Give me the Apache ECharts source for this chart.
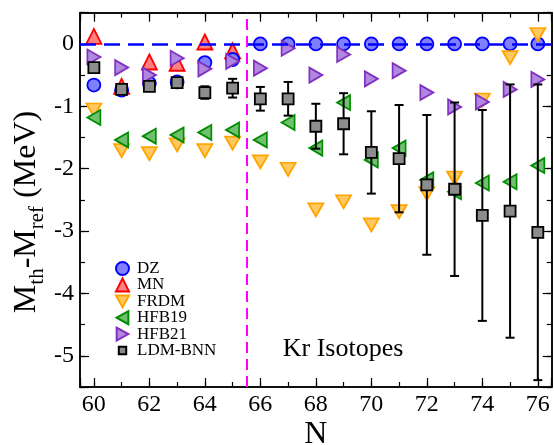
<!DOCTYPE html>
<html>
<head>
<meta charset="utf-8">
<script src="https://cdn.jsdelivr.net/npm/echarts@6/dist/echarts.min.js"></script>
<style>
  html, body { margin: 0; padding: 0; background: #fff; }
  #chart { width: 554px; height: 445px; }
</style>
</head>
<body>
<div id="chart"></div>
<script>
// neutron numbers
const nAll = [60, 61, 62, 63, 64, 65, 66, 67, 68, 69, 70, 71, 72, 73, 74, 75, 76];
const nMN = [60, 61, 62, 63, 64, 65];

// M_th - M_ref (MeV)
const dz = [-0.66, -0.74, -0.63, -0.61, -0.30, -0.25, 0, 0, 0, 0, 0, 0, 0, 0, 0, 0, 0];
const mn = [0.12, -0.68, -0.29, -0.31, 0.03, -0.11];
const frdm = [-1.06, -1.71, -1.76, -1.62, -1.71, -1.59, -1.89, -2.01, -2.66, -2.53, -2.90, -2.69, -2.40, -2.15, -0.90, -0.22, 0.15];
const hfb19 = [-1.18, -1.54, -1.48, -1.46, -1.42, -1.38, -1.54, -1.26, -1.67, -0.94, -1.86, -1.67, -2.18, -2.37, -2.23, -2.21, -1.95];
const hfb21 = [-0.21, -0.38, -0.50, -0.23, -0.40, -0.28, -0.39, -0.07, -0.50, -0.17, -0.56, -0.43, -0.78, -1.01, -0.93, -0.73, -0.57];
const ldm = [-0.38, -0.73, -0.68, -0.62, -0.78, -0.71, -0.88, -0.88, -1.32, -1.28, -1.74, -1.84, -2.26, -2.33, -2.75, -2.68, -3.02];
const ldmErr = [0.04, 0.05, 0.05, 0.06, 0.10, 0.15, 0.19, 0.27, 0.36, 0.49, 0.66, 0.86, 1.12, 1.39, 1.69, 2.03, 2.37];

const font = "'Liberation Serif', 'Times New Roman', serif";

const chart = echarts.init(document.getElementById('chart'));

const pairs = (xs, ys) => xs.map((x, i) => [x, ys[i]]);

const tri = {
  down: 'path://M0,0L10,0L5,9Z',
  left: 'path://M0,5L9,0L9,10Z',
  right: 'path://M0,0L9,5L0,10Z'
};

function xAxisCfg(pos, major, showLabel) {
  return {
    type: 'value',
    position: pos,
    min: 59.5,
    max: 76.5,
    splitNumber: major ? 8 : 17,
    minInterval: major ? 2 : 1,
    maxInterval: major ? 2 : 1,
    axisLine: { show: true, onZero: false, lineStyle: { color: '#000', width: 1.5 } },
    axisTick: { show: true, inside: true, length: major ? 9 : 5, lineStyle: { color: '#000', width: 1.2 } },
    splitLine: { show: false },
    axisLabel: {
      show: showLabel,
      margin: 6,
      fontSize: 24,
      fontFamily: font,
      color: '#000',
      formatter: v => (Number.isInteger(v) && v % 2 === 0 ? String(v) : '')
    },
    name: showLabel ? 'N' : '',
    nameLocation: 'middle',
    nameGap: 32,
    nameMoveOverlap: false,
    nameTextStyle: { fontSize: 32, fontFamily: font, color: '#000' }
  };
}

function yAxisCfg(pos, major, showLabel) {
  const cfg = {
    type: 'value',
    position: pos,
    min: -5.5,
    max: 0.5,
    axisLine: { show: true, onZero: false, lineStyle: { color: '#000', width: 1.5 } },
    axisTick: { show: true, inside: true, length: major ? 9 : 5, lineStyle: { color: '#000', width: 1.2 } },
    splitLine: { show: false },
    axisLabel: {
      show: showLabel,
      margin: 6,
      fontSize: 24,
      fontFamily: font,
      color: '#000',
      formatter: v => (Number.isInteger(v) ? String(v) : '')
    }
  };
  if (major) {
    cfg.splitNumber = 6;
    cfg.minInterval = 1;
    cfg.maxInterval = 1;
  } else {
    cfg.interval = 0.5;
  }
  return cfg;
}

const option = {
  animation: false,
  backgroundColor: '#fff',
  grid: { left: 80, right: 2.3, top: 12.7, bottom: 58, outerBoundsMode: 'none', containLabel: false },
  xAxis: [
    xAxisCfg('bottom', true, true),
    xAxisCfg('bottom', false, false),
    xAxisCfg('top', true, false),
    xAxisCfg('top', false, false)
  ],
  yAxis: [
    yAxisCfg('left', true, true),
    yAxisCfg('left', false, false),
    yAxisCfg('right', true, false),
    yAxisCfg('right', false, false)
  ],
  legend: {
    orient: 'vertical',
    left: 110,
    top: 255,
    itemWidth: 13,
    itemHeight: 13,
    itemGap: -0.6,
    textStyle: { fontSize: 17, fontFamily: font, color: '#000', lineHeight: 16, padding: [0, 0, 0, 3] },
    data: [
      { name: 'DZ' },
      { name: 'MN' },
      { name: 'FRDM' },
      { name: 'HFB19' },
      { name: 'HFB21' },
      { name: 'LDM-BNN', icon: 'path://M0,0M14,14M3,3L11,3L11,11L3,11Z' }
    ]
  },
  graphic: [
    {
      type: 'text',
      x: 29,
      y: 212,
      rotation: Math.PI / 2,
      style: {
        text: '{m|M}{s|th}{m|-M}{s|ref}{m| (MeV)}',
        align: 'center',
        verticalAlign: 'middle',
        rich: {
          m: { fontSize: 32, fontFamily: font, fill: '#000', lineHeight: 32, verticalAlign: 'top' },
          s: { fontSize: 21, fontFamily: font, fill: '#000', lineHeight: 37, verticalAlign: 'bottom' }
        }
      }
    },
    {
      type: 'text',
      left: 282.7,
      top: 336,
      style: { text: 'Kr Isotopes', fontSize: 26, fontFamily: font, fill: '#000' }
    }
  ],
  series: [
    {
      name: 'lines',
      type: 'scatter',
      data: [],
      z: 1,
      markLine: {
        silent: true,
        symbol: 'none',
        label: { show: false },
        animation: false,
        data: [
          { yAxis: 0, lineStyle: { color: '#0000ff', width: 2.5, type: [16, 8] } },
          { xAxis: 65.5, lineStyle: { color: '#ff00ff', width: 2, type: [11, 6] } }
        ]
      }
    },
    {
      name: 'DZ',
      type: 'scatter',
      z: 3,
      symbol: 'circle',
      symbolSize: 13,
      itemStyle: { color: '#8080ff', borderColor: '#0000ff', borderWidth: 1.8, opacity: 1 },
      data: pairs(nAll, dz)
    },
    {
      name: 'MN',
      type: 'scatter',
      z: 2,
      symbol: 'triangle',
      symbolSize: 15,
      itemStyle: { color: '#ff8080', borderColor: '#ff0000', borderWidth: 1.8, opacity: 1 },
      data: pairs(nMN, mn)
    },
    {
      name: 'FRDM',
      type: 'scatter',
      z: 4,
      symbol: tri.down,
      symbolSize: [15, 13],
      itemStyle: { color: '#ffc860', borderColor: '#ffa500', borderWidth: 1.8, opacity: 1 },
      data: pairs(nAll, frdm)
    },
    {
      name: 'HFB19',
      type: 'scatter',
      z: 4,
      symbol: tri.left,
      symbolSize: [13, 15],
      itemStyle: { color: '#70c070', borderColor: '#008c00', borderWidth: 1.8, opacity: 1 },
      data: pairs(nAll, hfb19)
    },
    {
      name: 'HFB21',
      type: 'scatter',
      z: 4,
      symbol: tri.right,
      symbolSize: [13, 15],
      itemStyle: { color: '#b088e0', borderColor: '#8030c0', borderWidth: 1.8, opacity: 1 },
      data: pairs(nAll, hfb21)
    },
    {
      name: 'LDM-BNN err',
      type: 'custom',
      z: 5,
      data: nAll.map((n, i) => [n, ldm[i] - ldmErr[i], ldm[i] + ldmErr[i]]),
      encode: { x: 0, y: [1, 2] },
      renderItem: function (params, api) {
        const x = api.value(0);
        const lo = api.coord([x, api.value(1)]);
        const hi = api.coord([x, api.value(2)]);
        const w = 4.5;
        const style = { stroke: '#000', lineWidth: 2 };
        return {
          type: 'group',
          children: [
            { type: 'line', shape: { x1: lo[0], y1: lo[1], x2: hi[0], y2: hi[1] }, style: style },
            { type: 'line', shape: { x1: lo[0] - w, y1: lo[1], x2: lo[0] + w, y2: lo[1] }, style: style },
            { type: 'line', shape: { x1: hi[0] - w, y1: hi[1], x2: hi[0] + w, y2: hi[1] }, style: style }
          ]
        };
      }
    },
    {
      name: 'LDM-BNN',
      type: 'scatter',
      z: 6,
      symbol: 'rect',
      symbolSize: 11,
      itemStyle: { color: '#8c8c8c', borderColor: '#000', borderWidth: 1.8, opacity: 1 },
      data: pairs(nAll, ldm)
    }
  ]
};

chart.setOption(option);
</script>
</body>
</html>
